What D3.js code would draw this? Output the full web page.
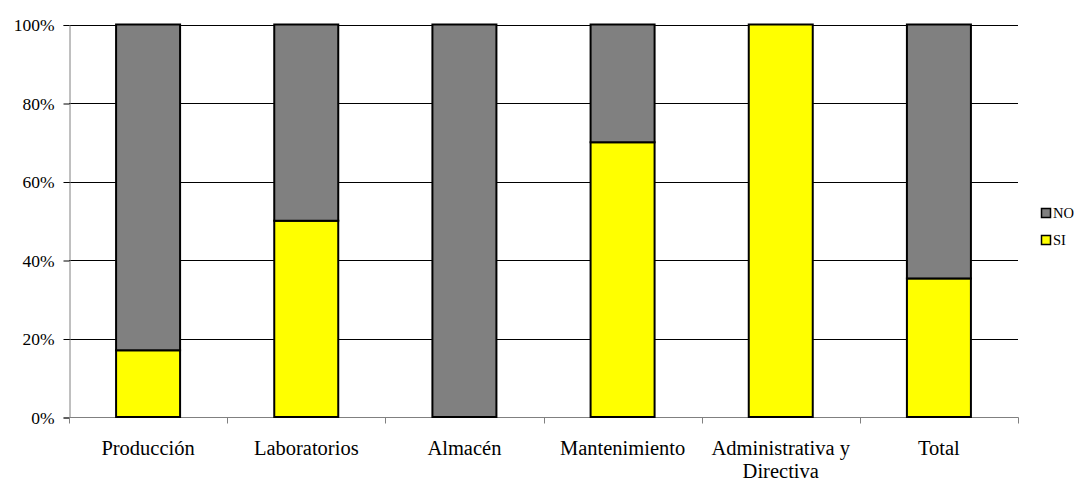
<!DOCTYPE html>
<html><head><meta charset="utf-8">
<script src="https://cdn.jsdelivr.net/npm/d3@7"></script>
<style>body{margin:0;background:#fff} svg text{font-family:"Liberation Serif","Times New Roman",serif !important;}</style>
</head><body>
<svg id="c" width="1085" height="483"></svg>
<script>
const categories = ["Producción","Laboratorios","Almacén","Mantenimiento","Administrativa y\nDirectiva","Total"];
const siValues = [17, 50, 0, 70, 100, 35.3];
const noValues = [83, 50, 100, 30, 0, 64.7];
const yTicks = [0,20,40,60,80,100];
const seriesNames = ["NO","SI"];
const seriesColors = ["#808080","#ffff00"];

(function(){
const svg = d3.select("#c");
const pLeft = 69, pRight = 1018, pTop = 24.5, pBottom = 417;
const x = d3.scaleBand().domain(categories).range([pLeft,pRight]).paddingInner(0).paddingOuter(0);
const y = d3.scaleLinear().domain([0,100]).range([pBottom,pTop]);

// gridlines
svg.append("g").selectAll("line").data(yTicks.filter(d=>d>0)).join("line")
  .attr("x1",pLeft).attr("x2",pRight).attr("y1",d=>Math.round(y(d))+0.5).attr("y2",d=>Math.round(y(d))+0.5)
  .attr("stroke","#000").attr("stroke-width",1);

// y axis
const ya = svg.append("g").attr("transform",`translate(${pLeft+0.5},0.5)`)
  .call(d3.axisLeft(y).tickValues(yTicks).tickFormat(d=>d+"%").tickSize(6).tickPadding(9));
ya.attr("font-family",null).attr("font-size",null);
ya.select(".domain").attr("stroke","#808080");
ya.selectAll(".tick line").attr("stroke","#000");
ya.selectAll("text").style("font-size","17.5px").attr("fill","#000");

// x axis
const xa = svg.append("g").attr("transform",`translate(0,${pBottom+0.5})`);
xa.append("line").attr("x1",pLeft).attr("x2",pRight+0.5).attr("stroke","#808080");
const bounds = d3.range(categories.length+1).map(i=>pLeft + i*x.step());
xa.selectAll("line.t").data(bounds).join("line").attr("class","t")
  .attr("x1",d=>Math.round(d)+0.5).attr("x2",d=>Math.round(d)+0.5).attr("y1",0).attr("y2",6).attr("stroke","#808080");
const lab = xa.selectAll("text").data(categories).join("text")
  .attr("x",d=>x(d)+x.bandwidth()/2).attr("y",37)
  .attr("text-anchor","middle").style("font-size","20.5px").attr("fill","#000");
lab.each(function(d){
  const t = d3.select(this);
  d.split("\n").forEach((s,i)=>t.append("tspan").attr("x",x(d)+x.bandwidth()/2).attr("dy",i?23:0).text(s));
});

// bars
const bw = 64;
const g = svg.append("g");
categories.forEach((c,i)=>{
  const cx = x(c)+x.bandwidth()/2;
  const segs = [{v0:0,v1:siValues[i],col:seriesColors[1]},{v0:siValues[i],v1:siValues[i]+noValues[i],col:seriesColors[0]}];
  segs.forEach(s=>{
    if(s.v1-s.v0<=0) return;
    g.append("rect").attr("x",cx-bw/2).attr("width",bw)
      .attr("y",y(s.v1)).attr("height",y(s.v0)-y(s.v1))
      .attr("fill",s.col).attr("stroke","#000").attr("stroke-width",2);
  });
});

// legend
const lg = svg.append("g");
seriesNames.forEach((n,i)=>{
  const yy = 208 + i*27;
  lg.append("rect").attr("x",1041.5).attr("y",yy+0.5).attr("width",9).attr("height",9)
    .attr("fill",seriesColors[i]).attr("stroke","#000").attr("stroke-width",1.5);
  lg.append("text").attr("x",1053).attr("y",yy+9.5).style("font-size","14.5px").text(n);
});
})();
</script>
</body></html>
